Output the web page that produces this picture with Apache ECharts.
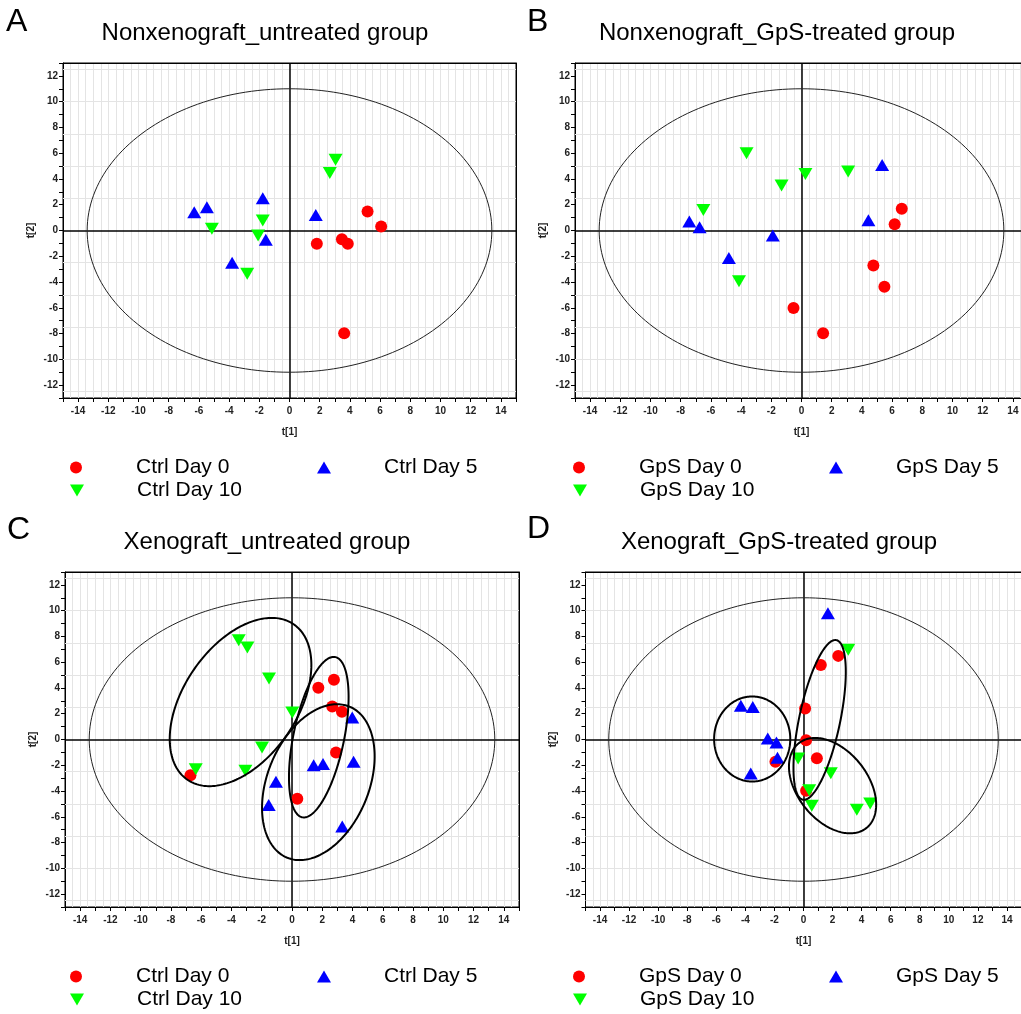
<!DOCTYPE html>
<html><head><meta charset="utf-8">
<script src="https://cdn.jsdelivr.net/npm/echarts/dist/echarts.min.js"></script>
<style>html,body{margin:0;padding:0;background:#fff}#c{width:1021px;height:1014px}</style>
</head><body><div id="c"></div>
<script>
// ---------- data ----------
const CTRL_NAMES = ['Ctrl Day 0', 'Ctrl Day 5', 'Ctrl Day 10'];
const GPS_NAMES = ['GpS Day 0', 'GpS Day 5', 'GpS Day 10'];

const A_DAY0 = [[5.17,1.47],[6.07,0.31],[1.81,-1.03],[3.47,-0.67],[3.86,-1.03],[3.62,-7.98]];
const A_DAY5 = [[-6.31,1.42],[-5.47,1.81],[-1.77,2.51],[1.74,1.21],[-1.57,-0.72],[-3.80,-2.51]];
const A_DAY10 = [[3.05,5.50],[2.67,4.47],[-5.14,0.13],[-1.77,0.78],[-2.08,-0.39],[-2.80,-3.36]];

const B_DAY0 = [[6.64,1.68],[6.17,0.49],[4.76,-2.71],[5.49,-4.37],[-0.53,-6.02],[1.43,-7.98]];
const B_DAY5 = [[5.34,5.09],[4.43,0.80],[-7.43,0.70],[-6.75,0.26],[-1.90,-0.39],[-4.81,-2.14]];
const B_DAY10 = [[-3.64,5.99],[-1.32,3.49],[0.26,4.39],[3.09,4.57],[-6.50,1.60],[-4.14,-3.93]];

const C_DAY0 = [[1.74,4.01],[2.77,4.63],[2.66,2.56],[3.30,2.15],[2.91,-1.01],[0.35,-4.60],[-6.71,-2.77]];
const C_DAY5 = [[3.98,1.71],[1.43,-1.99],[2.05,-1.91],[4.07,-1.73],[-1.06,-3.28],[-1.54,-5.09],[3.32,-6.75]];
const C_DAY10 = [[-3.52,7.71],[-2.95,7.14],[-1.52,4.73],[0.02,2.09],[-1.98,-0.62],[-6.36,-2.30],[-3.08,-2.43]];

const D_DAY0 = [[2.39,6.49],[1.19,5.79],[0.11,2.40],[0.18,-0.05],[0.92,-1.45],[-1.93,-1.73],[0.18,-3.98]];
const D_DAY5 = [[1.68,9.80],[-4.31,2.61],[-3.49,2.53],[-2.46,0.08],[-1.86,-0.23],[-1.79,-1.42],[-3.63,-2.64]];
const D_DAY10 = [[3.08,6.96],[-0.37,-1.47],[1.88,-2.61],[0.39,-3.93],[0.57,-5.15],[3.67,-5.46],[4.59,-4.97]];

// ellipses: [centerX, centerY, halfWidthX, halfHeightY, correlation]
const HOTELLING = [[0, 0, 13.4, 11.0, 0]];
const C_GROUPS = [[-3.40, 2.91, 4.68, 6.53, 0.44], [1.77, 0.18, 1.97, 6.23, 0.50], [1.74, -3.31, 3.72, 6.05, 0.33]];
const D_GROUPS = [[-3.53, 0.04, 2.62, 3.30, 0.0], [1.11, 1.52, 1.80, 6.20, 0.60], [2.0, -3.58, 3.0, 3.7, -0.40]];

// axes
const X_RANGE = [-15, 15];
const Y_RANGE = [-13, 13];
const Y_GRID_LINES = [-12.5, -10, -7.5, -5, -2.5, 2.5, 5, 7.5, 10, 12.5];
const X_NAME = 't[1]';
const Y_NAME = 't[2]';

const TITLES = ['Nonxenograft_untreated group', 'Nonxenograft_GpS-treated group', 'Xenograft_untreated group', 'Xenograft_GpS-treated group'];
const LETTERS = ['A', 'B', 'C', 'D'];

// ---------- layout ----------
const FONT = '"Liberation Sans", Arial, sans-serif';
const COLORS = ['#ff0000', '#0000ff', '#00ff00'];
const SYMBOLS = ['circle', 'triangle', 'path://M0,0L14,0L7,12Z'];
const SIZES = [12, [14, 12], [14, 12]];

const PANELS = [
  {grid:{left:63, top:63, width:453, height:335}, titleX:265, titleTop:21, letterX:6, letterTop:6,
   names:CTRL_NAMES, data:[A_DAY0, A_DAY5, A_DAY10], groups:[], legX:[70, 317], legY:[457, 480]},
  {grid:{left:575, top:63, width:453, height:335}, titleX:777, titleTop:21, letterX:527, letterTop:6,
   names:GPS_NAMES, data:[B_DAY0, B_DAY5, B_DAY10], groups:[], legX:[573, 829], legY:[457, 480]},
  {grid:{left:65, top:572, width:454, height:335}, titleX:267, titleTop:530, letterX:7, letterTop:514,
   names:CTRL_NAMES, data:[C_DAY0, C_DAY5, C_DAY10], groups:C_GROUPS, legX:[70, 317], legY:[966, 989]},
  {grid:{left:585.5, top:572, width:436, height:335}, titleX:779, titleTop:530, letterX:527, letterTop:513,
   names:GPS_NAMES, data:[D_DAY0, D_DAY5, D_DAY10], groups:D_GROUPS, legX:[573, 829], legY:[966, 989]}
];

function ellipseRender(lineWidth, color) {
  return function (params, api) {
    const cx = api.value(0), cy = api.value(1), w = api.value(2), h = api.value(3), r = api.value(4);
    const s = Math.sqrt(Math.max(0, 1 - r * r));
    const pts = [];
    const N = 200;
    for (let i = 0; i <= N; i++) {
      const t = 2 * Math.PI * i / N;
      pts.push(api.coord([cx + w * Math.cos(t), cy + h * (r * Math.cos(t) + s * Math.sin(t))]));
    }
    return {type:'polyline', shape:{points:pts}, style:{stroke:color, lineWidth:lineWidth, fill:'none'}};
  };
}

const evenLabel = v => (Math.round(v) % 2 === 0 ? String(Math.round(v)) : '');
const labelStyle = {fontFamily:FONT, fontSize:10, color:'#222', fontWeight:'bold'};

const option = {
  backgroundColor:'#ffffff',
  animation:false,
  title:[], grid:[], xAxis:[], yAxis:[], series:[], legend:[]
};

PANELS.forEach((p, i) => {
  option.grid.push(Object.assign({show:true, borderColor:'#000', borderWidth:1, backgroundColor:'transparent',
    containLabel:false, outerBoundsMode:'none'}, p.grid));
  option.title.push({text:TITLES[i], left:p.titleX, top:p.titleTop, textAlign:'center', padding:0,
    textStyle:{fontFamily:FONT, fontSize:24, fontWeight:'normal', color:'#000'}});
  option.title.push({text:LETTERS[i], left:p.letterX, top:p.letterTop, padding:0,
    textStyle:{fontFamily:FONT, fontSize:32, fontWeight:'normal', color:'#000'}});
  option.xAxis.push({type:'value', gridIndex:i, min:X_RANGE[0], max:X_RANGE[1], interval:1, position:'bottom',
    name:X_NAME, nameLocation:'middle', nameGap:29,
    nameTextStyle:labelStyle,
    axisLine:{show:true, onZero:false, lineStyle:{color:'#000', width:1}},
    axisTick:{show:true, inside:false, length:4, lineStyle:{color:'#000', width:1}},
    axisLabel:Object.assign({show:true, margin:8, formatter:evenLabel}, labelStyle),
    splitLine:{show:true, lineStyle:{color:'#e4e4e4', width:1}},
    minorTick:{show:false, splitNumber:2},
    minorSplitLine:{show:true, lineStyle:{color:'#e4e4e4', width:1}}
  });
  option.yAxis.push({type:'value', gridIndex:i, min:Y_RANGE[0], max:Y_RANGE[1], interval:1, position:'left',
    name:Y_NAME, nameLocation:'middle', nameGap:27,
    nameTextStyle:labelStyle,
    axisLine:{show:true, onZero:false, lineStyle:{color:'#000', width:1}},
    axisTick:{show:true, inside:false, length:4, lineStyle:{color:'#000', width:1}},
    axisLabel:Object.assign({show:true, margin:5, formatter:evenLabel}, labelStyle),
    splitLine:{show:false}
  });
  // grid lines + zero lines + Hotelling ellipse
  option.series.push({type:'custom', name:'hotelling' + i, xAxisIndex:i, yAxisIndex:i, z:2, silent:true, clip:false,
    renderItem:ellipseRender(1, '#222'), data:HOTELLING,
    markLine:{silent:true, symbol:['none','none'], z:1, animation:false, label:{show:false},
      lineStyle:{color:'#e4e4e4', width:1, type:'solid'},
      emphasis:{disabled:true},
      data:Y_GRID_LINES.map(v => ({yAxis:v}))}
  });
  option.series.push({type:'scatter', name:'zero' + i, xAxisIndex:i, yAxisIndex:i, data:[], z:2, silent:true,
    markLine:{silent:true, symbol:['none','none'], z:2, animation:false, label:{show:false},
      lineStyle:{color:'#000', width:1.5, type:'solid'},
      emphasis:{disabled:true},
      data:[{xAxis:0}, {yAxis:0}]}
  });
  p.data.forEach((d, k) => {
    option.series.push({type:'scatter', name:p.names[k], xAxisIndex:i, yAxisIndex:i, data:d, z:3 + k * 0.1,
      symbol:SYMBOLS[k], symbolSize:SIZES[k], itemStyle:{color:COLORS[k], opacity:1}, silent:true,
      emphasis:{disabled:true}});
  });
  if (p.groups.length) {
    option.series.push({type:'custom', name:'groups' + i, xAxisIndex:i, yAxisIndex:i, z:5, silent:true, clip:false,
      renderItem:ellipseRender(2, '#000'), data:p.groups});
  }
  const legPos = [[p.legX[0], p.legY[0]], [p.legX[1], p.legY[0]], [p.legX[0], p.legY[1]]];
  p.names.forEach((n, k) => {
    option.legend.push({show:true, selectedMode:false, data:[n], left:legPos[k][0], top:legPos[k][1],
      orient:'horizontal', padding:0, itemWidth:14, itemHeight:12, itemGap:0,
      formatter:'{t|{name}}',
      textStyle:{rich:{t:{fontFamily:FONT, fontSize:21, color:'#000', lineHeight:22, padding:[0,0,0,48]}}}
    });
  });
});

// frame axes (top and right borders of each plot)
PANELS.forEach((p, i) => {
  option.xAxis.push({type:'value', gridIndex:i, min:X_RANGE[0], max:X_RANGE[1], position:'top', z:3, silent:true,
    axisLine:{show:true, onZero:false, lineStyle:{color:'#000', width:1}},
    axisTick:{show:false}, axisLabel:{show:false}, splitLine:{show:false}});
  option.yAxis.push({type:'value', gridIndex:i, min:Y_RANGE[0], max:Y_RANGE[1], position:'right', z:3, silent:true,
    axisLine:{show:true, onZero:false, lineStyle:{color:'#000', width:1}},
    axisTick:{show:false}, axisLabel:{show:false}, splitLine:{show:false}});
});

const chart = echarts.init(document.getElementById('c'), null, {renderer:'canvas', width:1021, height:1014});
chart.setOption(option);
</script></body></html>
